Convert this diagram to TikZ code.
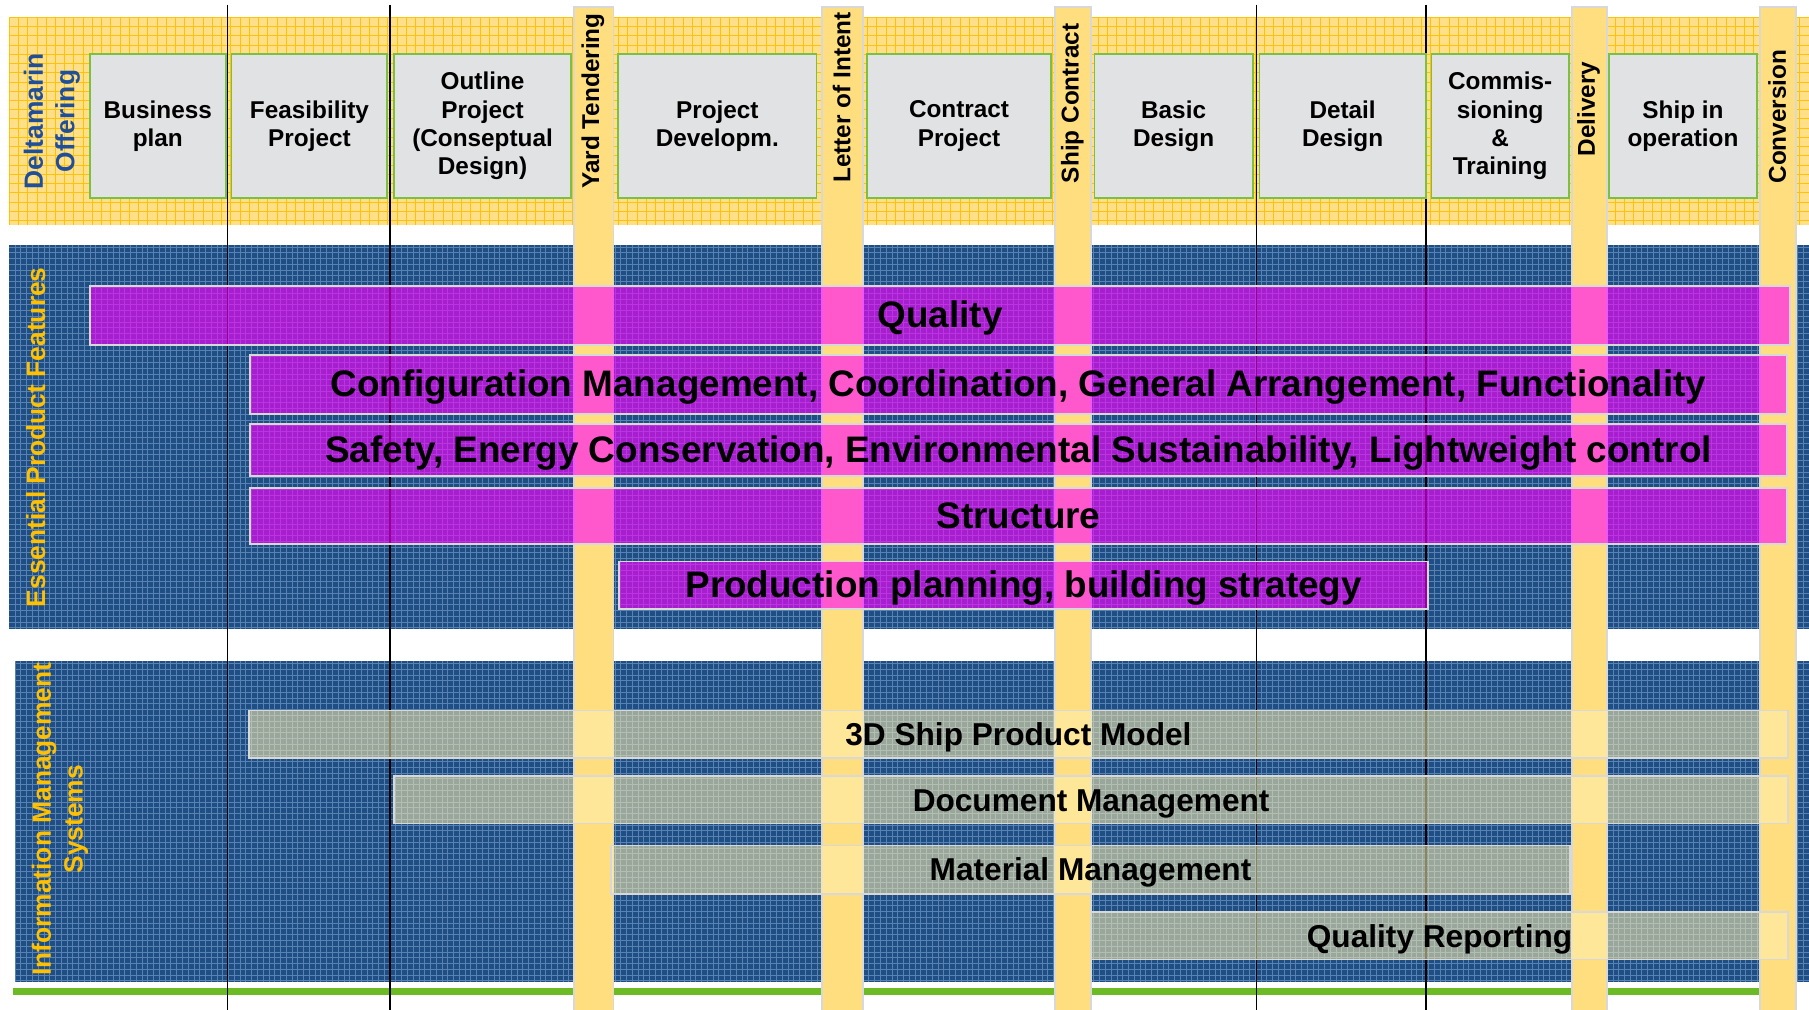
\documentclass[tikz,border=0pt]{standalone}
\usepackage{fontspec}
\setmainfont{Liberation Sans}
\usepackage{tikz}
\definecolor{bandyellow}{HTML}{FFE088}
\definecolor{bandgrid}{HTML}{FFC20A}
\definecolor{seablue}{HTML}{1F4E85}
\definecolor{seagrid}{HTML}{5882B2}
\definecolor{gatefill}{HTML}{FFDE80}
\definecolor{edgegray}{HTML}{D8D8D8}
\definecolor{phasefill}{HTML}{E1E2E4}
\definecolor{phaseedge}{HTML}{7AC143}
\definecolor{dmblue}{HTML}{1F4E9A}
\definecolor{labelorange}{HTML}{FFC000}
\definecolor{featfill}{RGB}{255,0,255}
\definecolor{sysfill}{HTML}{FFF0B0}
\definecolor{linegreen}{HTML}{6CBB24}
\tikzset{
	phase/.style 2 args={draw=phaseedge,line width=0.3mm,fill=phasefill,anchor=north west,inner sep=0pt,align=center,minimum width=#1*0.2mm,minimum height=#2*0.2mm,font=\fontsize{12}{14}\selectfont\bfseries},
	gate/.style 2 args={draw=edgegray,line width=0.3mm,fill=gatefill,anchor=north west,inner sep=0pt,minimum width=#1*0.2mm,minimum height=#2*0.2mm},
	gatelbl/.style={rotate=90,inner sep=0pt,font=\fontsize{12}{14}\selectfont\bfseries},
	feat/.style 2 args={draw=edgegray,line width=0.3mm,fill=featfill,fill opacity=0.6,text opacity=1,anchor=north west,inner sep=0pt,text height=13pt,text depth=1pt,minimum width=#1*0.2mm,minimum height=#2*0.2mm,font=\fontsize{18.2}{21}\selectfont\bfseries},
	sys/.style 2 args={draw=edgegray,line width=0.3mm,fill=sysfill,fill opacity=0.55,text opacity=1,anchor=north west,inner sep=0pt,text height=11.2pt,text depth=0pt,minimum width=#1*0.2mm,minimum height=#2*0.2mm,font=\fontsize{15.6}{18}\selectfont\bfseries},
	side/.style={rotate=90,inner sep=0pt,align=center,font=\fontsize{13}{15.6}\selectfont\bfseries}
}
\begin{document}
\begin{tikzpicture}[x=0.2mm,y=-0.2mm]
	\useasboundingbox (0,0) rectangle (1568,875);
	\fill[white] (0,0) rectangle (1568,875);

	% offering band
	\fill[bandyellow] (8,15) rectangle (1568,195);
	\foreach \gx in {8,16,...,1568} \draw[bandgrid,line width=0.12mm] (\gx,15) -- (\gx,195);
	\foreach \gy in {15,23,...,195} \draw[bandgrid,line width=0.12mm] (8,\gy) -- (1568,\gy);

	% blue areas
	\fill[seablue] (8,212) rectangle (1568,545);
	\fill[seablue] (13,573) rectangle (1568,851);
	\foreach \gx in {13,18,...,1568} {
		\draw[seagrid,line width=0.1mm] (\gx,212) -- (\gx,545);
		\draw[seagrid,line width=0.1mm] (\gx,573) -- (\gx,851);
	}
	\foreach \gy in {214,219,...,545} \draw[seagrid,line width=0.1mm] (8,\gy) -- (1568,\gy);
	\foreach \gy in {575,580,...,851} \draw[seagrid,line width=0.1mm] (13,\gy) -- (1568,\gy);

	\coordinate (gl) at (11,859.5);
	\coordinate (gr) at (1556,859.5);
	\draw[linegreen,line width=1.3mm] (gl) -- (gr);

	% separators
	\foreach \sx in {197,338,1089,1236} \draw[line width=0.25mm] (\sx,4) -- (\sx,875);

	% milestones
	\node [gate={34}{872}] (yard) at (497,5) {};
	\node [gate={35}{872}] (letter) at (712,5) {};
	\node [gate={31}{872}] (shipc) at (914,5) {};
	\node [gate={30}{872}] (deliv) at (1362,5) {};
	\node [gate={31}{872}] (conv) at (1525,5) {};

	\node [gatelbl] (yardtxt) at (514,87.5) {Yard Tendering};
	\node [gatelbl] (lettertxt) at (729.5,84.5) {Letter of Intent};
	\node [gatelbl] (shipctxt) at (929.5,89.5) {Ship Contract};
	\node [gatelbl] (delivtxt) at (1377,94.5) {Delivery};
	\node [gatelbl] (convtxt) at (1540.5,101) {Conversion};

	% phases
	\node [phase={118}{125}] (bplan) at (77,46) {Business\\plan};
	\node [phase={135}{125}] (feas) at (200,46) {Feasibility\\Project};
	\node [phase={153}{125}] (outline) at (341,46) {Outline\\Project\\(Conseptual\\Design)};
	\node [phase={172}{125}] (projdev) at (535,46) {Project\\Developm.};
	\node [phase={159}{125}] (contract) at (751,46) {Contract\\Project};
	\node [phase={137}{125}] (basic) at (948,46) {Basic\\Design};
	\node [phase={144}{125}] (detail) at (1091,46) {Detail\\Design};
	\node [phase={119}{125}] (commis) at (1240,46) {Commis-\\sioning\\\&\\Training};
	\node [phase={128}{125}] (shipop) at (1394,46) {Ship in\\operation};

	% side labels
	\node [side,text=dmblue] (offer) at (45,105) {Deltamarin\\Offering};
	\node [side,text=labelorange] (epf) at (31,379) {Essential Product Features};
	\node [side,text=labelorange] (ims) at (52,710) {Information Management\\Systems};

	% product features
	\node [feat={1474}{51}] (quality) at (77,247) {Quality};
	\node [feat={1332}{51}] (config) at (216,307) {Configuration Management, Coordination, General Arrangement, Functionality};
	\node [feat={1332}{45}] (safety) at (216,367) {Safety, Energy Conservation, Environmental Sustainability, Lightweight control};
	\node [feat={1332}{49}] (struct) at (216,422) {Structure};
	\node [feat={701}{41}] (prodplan) at (536,486) {Production planning, building strategy};

	% information systems
	\node [sys={1334}{41}] (model) at (215,615) {3D Ship Product Model};
	\node [sys={1208}{41}] (docman) at (341,672) {Document Management};
	\node [sys={831}{42}] (matman) at (529,732) {Material Management};
	\node [sys={604}{41}] (qrep) at (945,790) {Quality Reporting};
\end{tikzpicture}
\end{document}
